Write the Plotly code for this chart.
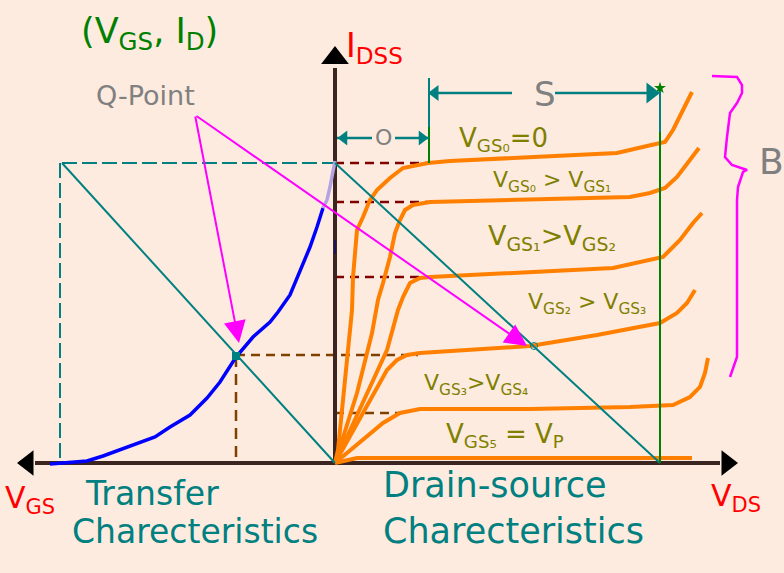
import plotly.graph_objects as go

# ---------------- data (VDS / VGS on x, ID on y, arbitrary units) ----------------
IDSS = 30.0
VP = -27.3
VDS_MAX = 32.5          # load-line intercept on VDS axis
Q_VGS, Q_ID = -9.9, 10.7
Q_VDS, Q_ID_OUT = 19.9, 11.7

# Drain-source characteristics (one curve per VGS step)
vds_0 = [0, 0.3, 0.8, 1.3, 1.7, 1.8, 2.0, 2.2, 2.8, 3.5, 4.2, 5.5, 6.8, 9.3, 11.5, 19.5, 28.2, 31.2, 33.0, 33.8, 34.8, 35.7]
id_0 = [0, 1.3, 6.3, 11.3, 15.3, 18.6, 21.3, 23.3, 24.6, 26.3, 27.3, 28.5, 29.5, 30.0, 30.2, 30.6, 31.0, 31.7, 32.1, 33.3, 35.3, 37.1]
vds_1 = [0, 2.2, 3.7, 4.3, 4.8, 5.5, 6.0, 6.5, 7.0, 7.8, 9.5, 19.5, 29.5, 31.5, 33.0, 34.2, 35.5, 36.4]
id_1 = [0, 7.0, 13.0, 16.3, 18.0, 20.6, 23.0, 24.3, 25.3, 25.8, 26.1, 26.3, 26.6, 27.0, 27.5, 28.6, 30.3, 31.5]
vds_2 = [0, 3.5, 5.2, 6.3, 6.8, 7.5, 8.5, 9.5, 19.5, 27.8, 32.8, 34.5, 35.8, 36.7]
id_2 = [0, 7.6, 11.3, 15.3, 16.6, 18.0, 18.5, 18.6, 19.1, 19.5, 20.6, 22.3, 24.0, 25.0]
vds_3 = [0, 4.5, 5.2, 6.2, 7.2, 8.5, 12.8, 19.5, 26.2, 32.5, 34.2, 35.2, 36.0]
id_3 = [0, 8.0, 9.3, 10.3, 10.8, 11.0, 11.3, 11.7, 12.8, 14.0, 15.0, 16.0, 17.3]
vds_4 = [0, 4.8, 6.5, 8.5, 19.5, 29.5, 33.8, 35.5, 36.5, 37.0, 37.3]
id_4 = [0, 4.0, 5.0, 5.4, 5.4, 5.6, 5.8, 6.6, 7.6, 9.0, 10.5]
vds_5 = [0, 2.2, 35.7]
id_5 = [0, 0.5, 0.5]

# Transfer characteristic
vgs_tr = [-28.5, -27.5, -24.8, -23.2, -21.5, -19.5, -18.0, -16.5, -14.5, -12.8, -11.5, -9.9, -8.2, -6.5, -5.7, -4.5, -3.3, -2.5, -1.8, -1.2]
id_tr = [-0.1, 0.0, 0.2, 0.7, 1.3, 2.0, 2.6, 3.6, 4.8, 6.5, 8.1, 10.6, 12.6, 14.1, 15.1, 16.8, 19.6, 21.6, 23.6, 25.5]
vgs_tr_top = [-1.2, -0.8, -0.5, -0.2, 0.0]
id_tr_top = [25.5, 26.3, 27.6, 29.0, 30.2]

# Knee (saturation) levels projected onto the ID axis
knee_id = [30.0, 26.1, 18.6, 10.8, 5.0]
knee_start = [0, 0, 0, Q_VGS, 0]
knee_end = [9.3, 9.3, 9.2, 8.3, 6.5]
knee_col = ["#800000", "#800000", "#800000", "#804000", "#804000"]

# Brace "B"
brace_x = [37.7, 40.2, 40.7, 40.7, 40.2, 39.5, 39.2, 39.0, 39.7, 41.2, 40.8, 40.3, 40.2, 40.2, 39.5]
brace_y = [38.7, 38.6, 37.8, 37.0, 36.0, 35.0, 32.6, 30.6, 29.8, 29.3, 29.1, 27.6, 26.3, 10.6, 8.6]

# Dimension markers
O_Y, S_Y = 32.5, 37.0
V_KNEE = 9.4

curve_list = [(vds_0, id_0), (vds_1, id_1), (vds_2, id_2), (vds_3, id_3), (vds_4, id_4), (vds_5, id_5)]

# ---------------- figure ----------------
fig = go.Figure()

def line(x, y, color, width=2, dash="solid"):
    fig.add_trace(go.Scatter(x=x, y=y, mode="lines", line=dict(color=color, width=width, dash=dash),
                             hoverinfo="skip", showlegend=False))

def mark(x, y, symbol, size, color):
    fig.add_trace(go.Scatter(x=[x], y=[y], mode="markers",
                             marker=dict(symbol=symbol, size=size, color=color, line=dict(width=0)),
                             hoverinfo="skip", showlegend=False))

TEAL = "#008080"
AXIS = "#3c2420"

# knee dashed lines
for k, s, e, c in zip(knee_id, knee_start, knee_end, knee_col):
    line([s, e], [k, k], c, 2.5, "9px,6px")
line([Q_VGS, Q_VGS], [Q_ID, 0], "#804000", 2.5, "11px,7px")

# IDSS / VP dashed teal
line([VP, 0], [IDSS, IDSS], TEAL, 2, "15px,5px")
line([VP - 0.2, VP - 0.2], [IDSS, 0], TEAL, 2, "15px,5px")

# axes
line([-30.0, 38.5], [0, 0], AXIS, 4)
line([0, 0], [0, 39.5], AXIS, 4)
mark(-30.7, 0, "triangle-left", 22, "black")
mark(39.2, 0, "triangle-right", 22, "black")
mark(0, 40.5, "triangle-up", 24, "black")

# orange output curves
for vx, iy in curve_list:
    line(vx, iy, "#ff8000", 4)

# transfer curve
line(vgs_tr, id_tr, "#0000ff", 3.5)
line(vgs_tr_top, id_tr_top, "#b4a3e3", 3.5)
mark(0, 21.6, "line-ns-open", 10, "#000090")

# load lines
line([VP, 0], [IDSS, 0], TEAL, 2)
line([0, VDS_MAX], [IDSS, 0], TEAL, 2)

# green and teal verticals
line([V_KNEE, V_KNEE], [38.5, 33.6], TEAL, 2)
line([V_KNEE, V_KNEE], [33.6, IDSS], "#008000", 2)
line([VDS_MAX, VDS_MAX], [37.6, 33.1], TEAL, 2)
line([VDS_MAX, VDS_MAX], [33.1, 0], "#008000", 2)
mark(VDS_MAX, 37.5, "star", 9, "#008000")

# dimension arrows
line([0.2, 3.7], [O_Y, O_Y], TEAL, 2.5)
line([6.0, V_KNEE], [O_Y, O_Y], TEAL, 2.5)
mark(0.9, O_Y, "triangle-left", 13, TEAL)
mark(8.7, O_Y, "triangle-right", 13, TEAL)
line([V_KNEE, 17.7], [S_Y, S_Y], TEAL, 2.5)
line([22.0, VDS_MAX - 0.2], [S_Y, S_Y], TEAL, 2.5)
mark(10.0, S_Y, "triangle-left", 14, TEAL)
mark(31.6, S_Y, "triangle-right", 18, TEAL)

# brace
line(brace_x, brace_y, "#ff00ff", 2.5)

# Q points
mark(Q_VGS, Q_ID, "square", 8, TEAL)
mark(Q_VDS, Q_ID_OUT, "circle-open", 7, TEAL)

# ---------------- text ----------------
FONT = "DejaVu Sans"
def txt(x, y, s, size, color, anchor="left"):
    fig.add_annotation(x=x, y=y, text=s, showarrow=False, xanchor=anchor, yanchor="middle",
                       font=dict(family=FONT, size=size, color=color))

txt(-25.6, 43.0, "(V<sub>GS</sub>, I<sub>D</sub>)", 35, "#008000")
txt(-24.1, 36.8, "Q-Point", 27, "#808080")
txt(0.9, 41.6, "I<sub>DSS</sub>", 33, "#ff0000")
txt(-33.2, -3.6, "V<sub>GS</sub>", 30, "#ff0000")
txt(37.4, -3.4, "V<sub>DS</sub>", 30, "#ff0000")
txt(-25.2, -3.0, "Transfer", 33, TEAL)
txt(-26.5, -6.8, "Charecteristics", 33, TEAL)
txt(4.6, -2.2, "Drain-source", 35, TEAL)
txt(4.6, -6.8, "Charecteristics", 35, TEAL)
txt(42.2, 30.2, "B", 36, "#808080")
txt(21.0, 36.9, "S", 34, "#808080", "center")
txt(4.8, 32.6, "O", 22, "#808080", "center")

OLIVE = "#808000"
txt(12.2, 32.4, "V<sub>GS₀</sub>=0", 26, OLIVE)
txt(15.6, 28.2, "V<sub>GS₀</sub> > V<sub>GS₁</sub>", 22, OLIVE)
txt(15.1, 22.6, "V<sub>GS₁</sub>>V<sub>GS₂</sub>", 27, OLIVE)
txt(19.1, 16.0, "V<sub>GS₂</sub> > V<sub>GS₃</sub>", 22, OLIVE)
txt(8.7, 7.9, "V<sub>GS₃</sub>>V<sub>GS₄</sub>", 22, OLIVE)
txt(10.9, 2.8, "V<sub>GS₅</sub> = V<sub>P</sub>", 26, OLIVE)

# magenta Q-point arrows
for tx, ty in [(-9.6, 12.0), (19.2, 11.7)]:
    fig.add_annotation(x=tx, y=ty, ax=-14.0, ay=34.8, axref="x", ayref="y", xref="x", yref="y",
                       text="", showarrow=True, arrowhead=2, arrowsize=2.2, arrowwidth=2,
                       arrowcolor="#ff00ff", standoff=0)

fig.update_layout(
    width=784, height=573, margin=dict(l=0, r=0, t=0, b=0),
    paper_bgcolor="#feebdf", plot_bgcolor="#feebdf",
    xaxis=dict(range=[-33.5, 44.9], visible=False, fixedrange=True),
    yaxis=dict(range=[-11.0, 46.3], visible=False, fixedrange=True),
    showlegend=False,
)
fig.write_html(
    "out.html",
    config={"displayModeBar": False},
    post_script="document.body.style.margin='0';document.body.style.background='#feebdf';",
)
